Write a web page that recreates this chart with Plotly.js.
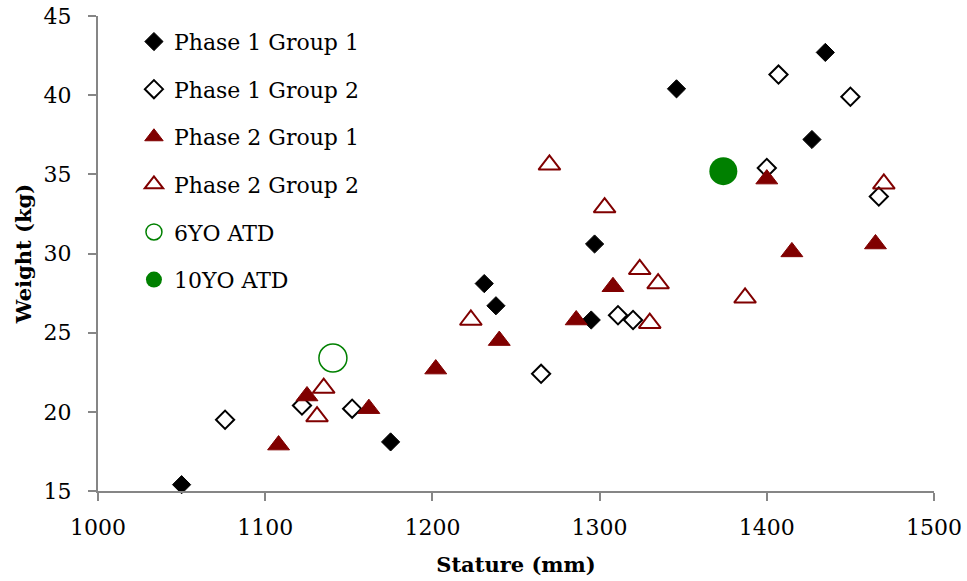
<!DOCTYPE html>
<html>
<head>
<meta charset="utf-8">
<script src="https://cdn.plot.ly/plotly-3.0.1.min.js"></script>
<style>html,body{margin:0;padding:0;background:#fff;}#chart{width:967px;height:581px;}</style>
</head>
<body>
<div id="chart"></div>
<script>
// Phase 1 Group 1
const p1g1_stature = [1050, 1175, 1231, 1238, 1297, 1295, 1346, 1427, 1435];
const p1g1_weight  = [15.4, 18.1, 28.1, 26.7, 30.6, 25.8, 40.4, 37.2, 42.7];
// Phase 1 Group 2
const p1g2_stature = [1076, 1122, 1152, 1265, 1311, 1320, 1407, 1450, 1400, 1467];
const p1g2_weight  = [19.5, 20.4, 20.2, 22.4, 26.1, 25.8, 41.3, 39.9, 35.4, 33.6];
// Phase 2 Group 1
const p2g1_stature = [1108, 1125, 1162, 1202, 1240, 1286, 1308, 1400, 1415, 1465];
const p2g1_weight  = [17.9, 21.0, 20.2, 22.7, 24.5, 25.8, 27.9, 34.7, 30.1, 30.6];
// Phase 2 Group 2
const p2g2_stature = [1135, 1131, 1223, 1270, 1303, 1324, 1335, 1470, 1387, 1330];
const p2g2_weight  = [21.5, 19.7, 25.8, 35.6, 32.9, 29.0, 28.1, 34.4, 27.2, 25.6];
// ATDs
const atd6_stature = [1140.5];
const atd6_weight  = [23.4];
const atd10_stature = [1374];
const atd10_weight  = [35.2];

const seriesNames = ["Phase 1 Group 1", "Phase 1 Group 2", "Phase 2 Group 1", "Phase 2 Group 2", "6YO ATD", "10YO ATD"];
const xTicks = [1000, 1100, 1200, 1300, 1400, 1500];
const yTicks = [15, 20, 25, 30, 35, 40, 45];

const FONT = "DejaVu Serif, serif";
const RED = "#800000";
const GREEN = "#008000";

const traces = [
  {x: p1g1_stature, y: p1g1_weight, name: seriesNames[0], legendgroup: "a",
   marker: {symbol: "diamond", size: 14, color: "#000", line: {color: "#000", width: 1}}},
  {x: p1g2_stature, y: p1g2_weight, name: seriesNames[1], legendgroup: "b",
   marker: {symbol: "diamond-open", size: 14, color: "#000", line: {color: "#000", width: 2}}},
  {x: p2g1_stature, y: p2g1_weight, name: seriesNames[2], legendgroup: "c",
   marker: {symbol: "triangle-up", size: 19, color: RED, line: {color: RED, width: 1}}},
  {x: p2g2_stature, y: p2g2_weight, name: seriesNames[3], legendgroup: "d",
   marker: {symbol: "triangle-up-open", size: 19, color: RED, line: {color: RED, width: 2}}},
  {x: atd6_stature, y: atd6_weight, name: seriesNames[4], legendgroup: "e",
   marker: {symbol: "circle-open", size: 28, color: GREEN, line: {color: GREEN, width: 1.5}}},
  {x: atd10_stature, y: atd10_weight, name: seriesNames[5], legendgroup: "f",
   marker: {symbol: "circle", size: 28, color: GREEN}}
].map(t => Object.assign({type: "scatter", mode: "markers", cliponaxis: false}, t));

const layout = {
  width: 967, height: 581,
  margin: {l: 98, r: 33, t: 16, b: 90},
  paper_bgcolor: "#fff", plot_bgcolor: "#fff",
  font: {family: FONT, size: 22, color: "#000"},
  showlegend: true,
  legend: {x: 0.043, y: 0.99, xanchor: "left", yanchor: "top", bgcolor: "rgba(0,0,0,0)",
           font: {family: FONT, size: 22, color: "#000"}, tracegroupgap: 16, itemsizing: "trace"},
  xaxis: {range: [1000, 1500], tickvals: xTicks, ticktext: xTicks.map(String),
          showgrid: false, zeroline: false, showline: true, linecolor: "#868686", linewidth: 2,
          ticks: "outside", ticklen: 8, tickwidth: 2, tickcolor: "#868686",
          tickfont: {family: FONT, size: 22}, ticklabelstandoff: 8,
          title: {text: "<b>Stature (mm)</b>", font: {family: FONT, size: 21}, standoff: 18}},
  yaxis: {range: [15, 45], tickvals: yTicks, ticktext: yTicks.map(String),
          showgrid: false, zeroline: false, showline: true, linecolor: "#868686", linewidth: 2,
          ticks: "outside", ticklen: 8, tickwidth: 2, tickcolor: "#868686",
          tickfont: {family: FONT, size: 22}, ticklabelstandoff: 12,
          title: {text: "<b>Weight (kg)</b>", font: {family: FONT, size: 21}, standoff: 6}}
};

Plotly.newPlot("chart", traces, layout, {displayModeBar: false, staticPlot: true});
</script>
</body>
</html>
